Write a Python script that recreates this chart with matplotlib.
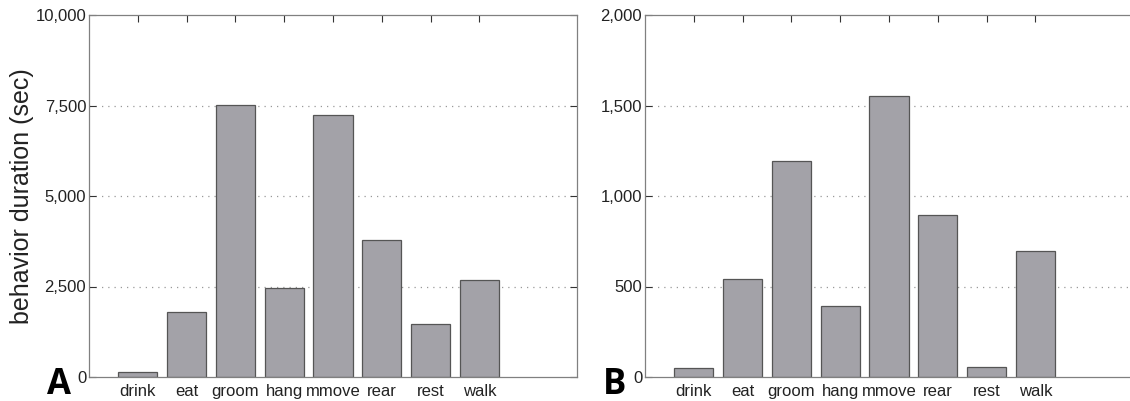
import matplotlib
matplotlib.use('Agg')
import matplotlib.pyplot as plt
from matplotlib.ticker import FuncFormatter

plt.rcParams['font.family'] = ['Liberation Sans', 'DejaVu Sans']

# data
behaviors = ['drink', 'eat', 'groom', 'hang', 'mmove', 'rear', 'rest', 'walk']
duration_a = [150, 1800, 7510, 2460, 7240, 3785, 1465, 2680]
duration_b = [50, 540, 1195, 392, 1550, 893, 54, 697]
ylim_a = 10000
ylim_b = 2000
yticks_a = [0, 2500, 5000, 7500, 10000]
yticks_b = [0, 500, 1000, 1500, 2000]

bar_color = '#a3a2a8'
edge_color = '#555555'
spine_color = '#808080'

fig = plt.figure(figsize=(11.3, 4.01), dpi=100)


def draw_panel(rect, xmax, values, ylim, yticks, letter, letter_x, cut=False):
    ax = fig.add_axes(rect)
    x = range(1, len(values) + 1)
    ax.bar(x, values, width=0.8, color=bar_color, edgecolor=edge_color,
           linewidth=0.9, zorder=2)
    ax.set_xlim(0, xmax)
    ax.set_ylim(0, ylim)
    ax.set_xticks(list(x))
    ax.set_xticklabels(behaviors, fontsize=12, color='#222222')
    ax.set_yticks(yticks)
    ax.yaxis.set_major_formatter(FuncFormatter(lambda v, p: f'{int(v):,}'))
    for t in ax.get_yticklabels():
        t.set_fontsize(12)
        t.set_color('#222222')
    ax.tick_params(axis='x', bottom=False, top=True, direction='in',
                   length=5, width=0.8, color='#333333', pad=5)
    ax.tick_params(axis='y', left=True, right=not cut, direction='in',
                   length=5, width=0.8, color='#333333', pad=2)
    # dotted grid (not at the limits)
    for v in yticks[1:-1]:
        ax.axhline(v, color='#999999', linestyle=(0, (1, 4)), linewidth=0.9,
                   zorder=1)
    for s in ax.spines.values():
        s.set_color(spine_color)
        s.set_linewidth(0.9)
    if cut:
        # the original picture is cropped through this panel's right side
        ax.spines['right'].set_visible(False)
    fig.text(letter_x, 0.0175, letter, fontsize=25, fontweight='bold',
             family=['Open Sans', 'DejaVu Sans'], ha='left', va='baseline')
    return ax


axA = draw_panel([89 / 1130, 24 / 401, 488 / 1130, 362 / 401], 10,
                 duration_a, ylim_a, yticks_a, 'A', 47 / 1130)
axB = draw_panel([645 / 1130, 24 / 401, 485 / 1130, 362 / 401], 10 * 485 / 488,
                 duration_b, ylim_b, yticks_b, 'B', 603 / 1130, cut=True)

fig.text(22 / 1130, (401 - 196) / 401, 'behavior duration (sec)', fontsize=18,
         rotation=90, ha='center', va='center', color='#222222')

fig.savefig('out.png', dpi=100)
